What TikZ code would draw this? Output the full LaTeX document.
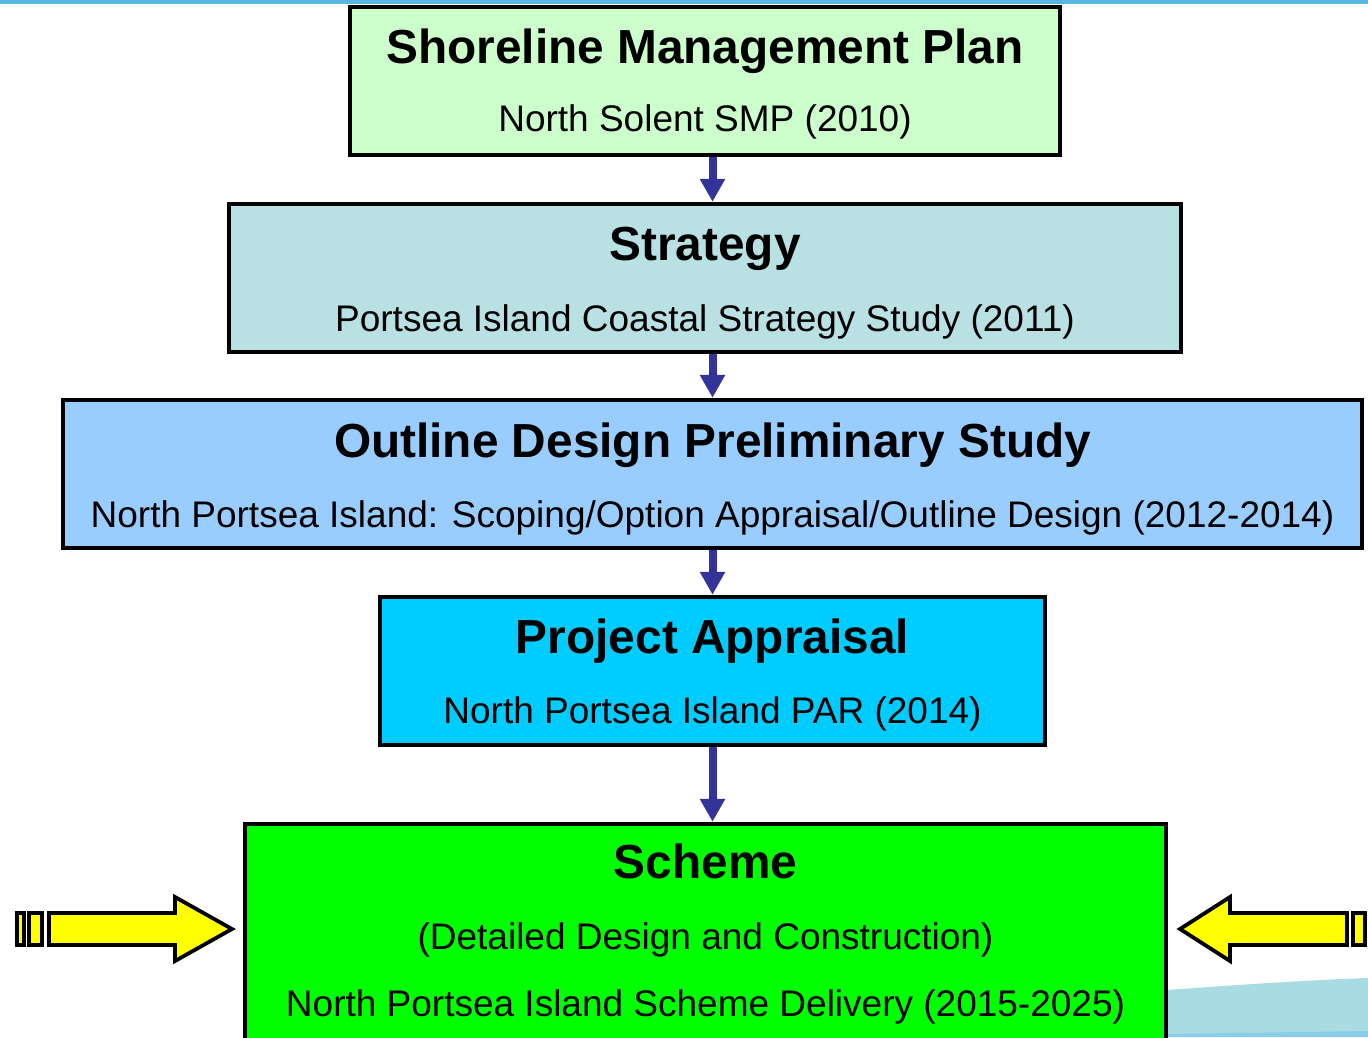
\documentclass[tikz,border=0pt]{standalone}
\usepackage{fontspec}
\setmainfont{Liberation Sans}
\usetikzlibrary{arrows.meta}
\definecolor{cSMP}{HTML}{CCFFCC}
\definecolor{cStr}{HTML}{B9E1E3}
\definecolor{cOut}{HTML}{99CCFF}
\definecolor{cPro}{HTML}{00CCFF}
\definecolor{cSch}{HTML}{00FF00}
\definecolor{cArr}{HTML}{333399}
\definecolor{cBar}{HTML}{56B7E1}
\definecolor{cWave}{HTML}{A9DCE2}
\definecolor{cYel}{HTML}{FFFF00}
\tikzset{
  box/.style={draw=black, line width=2.2pt, rectangle, inner sep=0pt},
  ttl/.style={anchor=base, inner sep=0pt, font=\fontsize{23.9pt}{26pt}\selectfont\bfseries},
  sub/.style={anchor=base, inner sep=0pt, font=\fontsize{18.5pt}{21pt}\selectfont},
  conn/.style={draw=cArr, line width=4pt, -{Triangle[width=12pt,length=11.5pt]}, shorten >=0pt},
  yel/.style={draw=black, line width=1.9pt, fill=cYel, line join=miter}
}
\begin{document}
\begin{tikzpicture}[x=0.5pt,y=-0.5pt]
\useasboundingbox (0,0) rectangle (1368,1037);
\clip (0,0) rectangle (1368,1037);
% top bar
\fill[cBar] (0,0) rectangle (1368,4.5);
% wave bottom right
\fill[cWave] (1166,990) .. controls (1250,984) and (1310,980) .. (1368,978) -- (1368,1037) -- (1166,1037) -- cycle;
\fill[cBar!70] (1166,1034) -- (1368,1031) -- (1368,1037) -- (1166,1037) -- cycle;
% boxes
\node[box, fill=cSMP, minimum width=710*0.5pt, minimum height=148*0.5pt] (smp) at (705,81) {};
\node[box, fill=cStr, minimum width=952*0.5pt, minimum height=148*0.5pt] (str) at (705,278) {};
\node[box, fill=cOut, minimum width=1299*0.5pt, minimum height=148*0.5pt] (out) at (712.5,474) {};
\node[box, fill=cPro, minimum width=665*0.5pt, minimum height=148*0.5pt] (pro) at (712.5,671) {};
\node[box, fill=cSch, minimum width=921*0.5pt, minimum height=300*0.5pt] (sch) at (705.5,974) {};
% texts
\node[ttl] (t1) at (705,64) {Shoreline Management Plan};
\node[sub] (s1) at (705,132) {North Solent SMP (2010)};
\node[ttl] (t2) at (705,261) {Strategy};
\node[sub] (s2) at (705,331) {Portsea Island Coastal Strategy Study (2011)};
\node[ttl] (t3) at (712.5,457) {Outline Design Preliminary Study};
\node[sub] (s3) at (712.5,527) {North Portsea Island: Scoping/Option Appraisal/Outline Design (2012-2014)};
\node[ttl] (t4) at (712.5,653) {Project Appraisal};
\node[sub] (s4) at (712.5,723) {North Portsea Island PAR (2014)};
\node[ttl] (t5) at (705.5,878) {Scheme};
\node[sub] (s5) at (705.5,949) {(Detailed Design and Construction)};
\node[sub] (s6) at (705.5,1016) {North Portsea Island Scheme Delivery (2015-2025)};
% connectors
\draw[conn] (smp.south -| pro.center) -- (str.north -| pro.center);
\draw[conn] (str.south -| pro.center) -- (out.north -| pro.center);
\draw[conn] (out.south) -- (pro.north);
\draw[conn] (pro.south) -- (sch.north -| pro.center);
% yellow arrows
\coordinate (lt) at (232,929);
\coordinate (rt) at (1180,929);
\draw[yel] (49,913) -- (175,913) -- (175,897) -- (lt) -- (175,961) -- (175,945) -- (49,945) -- cycle;
\draw[yel] (29,913) rectangle (42,945);
\draw[yel] (17,913) rectangle (24,945);
\draw[yel] (1347,913) -- (1230,913) -- (1230,897) -- (rt) -- (1230,961) -- (1230,945) -- (1347,945) -- cycle;
\draw[yel] (1353,913) rectangle (1365,945);
\draw[yel] (1370,913) rectangle (1380,945);
\end{tikzpicture}
\end{document}
